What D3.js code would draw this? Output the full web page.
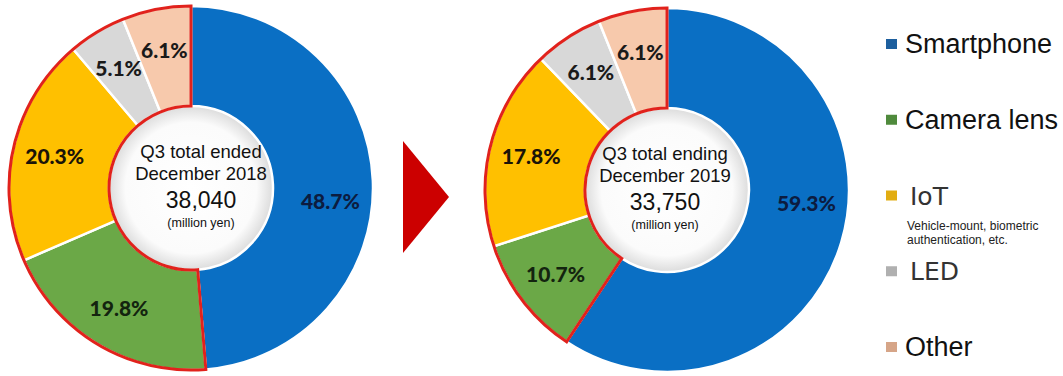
<!DOCTYPE html>
<html>
<head>
<meta charset="utf-8">
<script src="https://cdn.jsdelivr.net/npm/d3@7"></script>
<style>
  body { margin: 0; background: #fff; }
  svg { display: block; }
</style>
</head>
<body>
<div id="chart"></div>
<script>
// sales composition by application, Q3 cumulative
const categories = ["Smartphone", "Camera lens", "IoT", "LED", "Other"];
const share2018 = [48.7, 19.8, 20.3, 5.1, 6.1];
const share2019 = [59.3, 10.7, 17.8, 6.1, 6.1];
const periodTitles = ["Q3 total ended", "Q3 total ending"];
const periodYears = ["December 2018", "December 2019"];
const totals = ["38,040", "33,750"];
const unitLabel = "(million yen)";
const iotNote = ["Vehicle-mount, biometric", "authentication, etc."];

const width = 1063, height = 376;
const outerR = 182, innerR = 82, labelR = 140;

const color = d3.scaleOrdinal()
    .domain(categories)
    .range(["#0a6fc4", "#6ba847", "#ffc000", "#d8d8d8", "#f7c9ac"]);

const swatch = d3.scaleOrdinal()
    .domain(categories)
    .range(["#1d5f9e", "#4f8a3c", "#e2ad12", "#b0b0b0", "#d6a588"]);

const labelColor = d3.scaleOrdinal()
    .domain(categories)
    .range(["#0c1c40", "#13240f", "#1a1408", "#1a1a1a", "#1a1a1a"]);

const svg = d3.select("#chart").append("svg")
    .attr("width", width)
    .attr("height", height)
    .attr("viewBox", [0, 0, width, height]);

const defs = svg.append("defs");
const grad = defs.append("radialGradient").attr("id", "hole");
grad.append("stop").attr("offset", "0%").attr("stop-color", "#ffffff");
grad.append("stop").attr("offset", "80%").attr("stop-color", "#fbfbfb");
grad.append("stop").attr("offset", "100%").attr("stop-color", "#dcdcdc");

const pie = d3.pie().sort(null).value(d => d);
const arc = d3.arc().innerRadius(innerR).outerRadius(outerR);
const labelArc = d3.arc().innerRadius(labelR).outerRadius(labelR);

const donuts = [
  {values: share2018, cx: 191, cy: 188, tx: 10},
  {values: share2019, cx: 667, cy: 190, tx: -2}
];

donuts.forEach((d, k) => {
  const g = svg.append("g").attr("transform", `translate(${d.cx},${d.cy})`);
  const arcs = pie(d.values);

  g.append("circle")
      .attr("r", innerR)
      .attr("fill", "url(#hole)")
      .attr("stroke", "#c9dcee")
      .attr("stroke-width", 1);

  g.selectAll("path.slice")
    .data(arcs)
    .join("path")
      .attr("class", "slice")
      .attr("fill", (a, i) => color(categories[i]))
      .attr("stroke", "#fff")
      .attr("stroke-width", 2.5)
      .attr("d", arc);

  // red outline around everything except smartphone
  g.append("path")
      .attr("fill", "none")
      .attr("stroke", "#e1221c")
      .attr("stroke-width", 3)
      .attr("stroke-linejoin", "miter")
      .attr("d", arc({startAngle: arcs[0].endAngle, endAngle: 2 * Math.PI}));

  g.selectAll("text.pct")
    .data(arcs)
    .join("text")
      .attr("class", "pct")
      .attr("transform", (a, i) => {
        // big slice label sits just below horizontal, like the original
        const p = i === 0
          ? labelArc.centroid({startAngle: Math.PI * 0.53, endAngle: Math.PI * 0.53})
          : labelArc.centroid(a);
        return `translate(${p})`;
      })
      .attr("text-anchor", "middle")
      .attr("dy", "0.36em")
      .attr("font-family", "Lato, 'Open Sans', sans-serif")
      .attr("font-weight", 900)
      .attr("font-size", 21)
      .attr("fill", (a, i) => labelColor(categories[i]))
      .text(a => a.data.toFixed(1) + "%");

  const c = g.append("g")
      .attr("transform", `translate(${d.tx},0)`)
      .attr("text-anchor", "middle")
      .attr("font-family", "'Liberation Sans', Arial, sans-serif")
      .attr("fill", "#111");
  c.append("text").attr("y", -30).attr("font-size", 18.5).text(periodTitles[k]);
  c.append("text").attr("y", -8).attr("font-size", 18.5).text(periodYears[k]);
  c.append("text").attr("y", 20).attr("font-size", 23).text(totals[k]);
  c.append("text").attr("y", 39).attr("font-size", 12.5).text(unitLabel);
});

// red arrow between the two donuts
const arrowX = d3.scaleLinear().domain([0, 1]).range([403, 449]);
const arrowY = d3.scaleLinear().domain([0, 1]).range([141, 253]);
svg.append("path")
    .attr("fill", "#cc0000")
    .attr("d", d3.line()([[arrowX(0), arrowY(0)], [arrowX(1), arrowY(0.5)], [arrowX(0), arrowY(1)]]));

// legend
const ly = d3.scalePoint().domain(categories).range([53, 356]);
const serifish = new Set(["IoT", "LED"]);
const leg = svg.append("g").selectAll("g")
  .data(categories)
  .join("g")
    .attr("transform", d => `translate(886,${ly(d)})`);

leg.append("rect")
    .attr("y", -14)
    .attr("width", 11)
    .attr("height", 10)
    .attr("fill", d => swatch(d));

leg.append("text")
    .attr("x", d => serifish.has(d) ? 24 : 19)
    .attr("font-family", d => serifish.has(d) ? "'DejaVu Sans', sans-serif" : "'Liberation Sans', Arial, sans-serif")
    .attr("font-size", d => serifish.has(d) ? 25 : 27)
    .attr("fill", d => serifish.has(d) ? "#333" : "#111")
    .text(d => d);

svg.append("g")
    .attr("font-family", "'Liberation Sans', Arial, sans-serif")
    .attr("font-size", 12)
    .attr("fill", "#222")
  .selectAll("text")
  .data(iotNote)
  .join("text")
    .attr("x", 907)
    .attr("y", (d, i) => ly("IoT") + 25 + i * 14)
    .text(d => d);
</script>
</body>
</html>
